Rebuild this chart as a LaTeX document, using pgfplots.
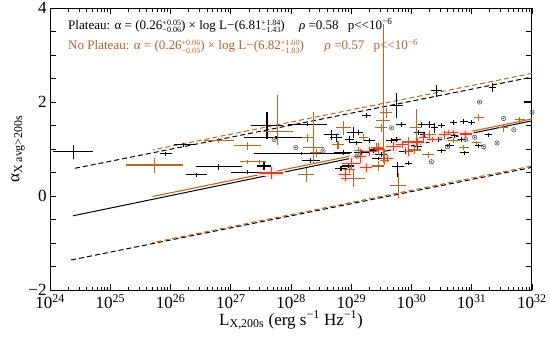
\documentclass[border=0pt]{standalone}
\usepackage{fontspec}
\setmainfont{Liberation Serif}
\usepackage{pgfplots}
\pgfplotsset{compat=1.18}
\usepackage{pgfplotstable}
\definecolor{orngb}{RGB}{190,102,32}
\definecolor{redp}{RGB}{232,60,30}
\definecolor{txtb}{RGB}{185,95,45}
\newcommand{\er}[2]{{\fontsize{8}{8}\selectfont\renewcommand\arraystretch{0.9}\begin{tabular}{@{}l@{}}#1\\#2\end{tabular}}}

\pgfplotstableread{
x y xe yp ym
24.38 0.94 0.33 0.15 0.15
25.92 0.90 0.10 0.04 0.04
26.22 1.09 0.17 0.04 0.04
26.43 0.45 0.17 0.04 0.04
26.80 0.62 0.38 0.07 0.07
27.28 0.51 0.27 0.04 0.04
27.55 0.64 0.12 0.08 0.08
27.60 1.50 0.27 0.28 0.28
27.75 1.24 0.53 0.03 0.03
28.18 0.90 0.80 0.03 0.03
28.27 1.52 0.32 0.03 0.03
28.33 0.75 0.15 0.05 0.05
28.67 1.30 0.12 0.10 0.10
28.75 1.24 0.10 0.08 0.08
28.83 0.58 0.10 0.05 0.05
28.87 0.92 0.15 0.05 0.05
28.95 0.64 0.10 0.05 0.05
28.97 1.20 0.08 0.08 0.08
29.03 1.35 0.10 0.12 0.12
29.08 1.13 0.10 0.05 0.05
29.12 1.35 0.08 0.05 0.05
29.17 0.92 0.12 0.05 0.05
29.25 1.71 0.08 0.05 0.05
29.30 1.18 0.10 0.06 0.06
29.37 0.98 0.08 0.06 0.06
29.45 0.80 0.10 0.04 0.04
29.50 0.88 0.10 0.05 0.05
29.67 1.18 0.10 0.06 0.06
29.75 1.20 0.08 0.05 0.05
29.75 1.92 0.11 0.27 0.27
29.77 0.62 0.10 0.10 0.22
29.83 1.52 0.08 0.06 0.06
29.90 0.95 0.10 0.05 0.05
29.95 0.70 0.06 0.04 0.04
30.10 1.05 0.08 0.06 0.06
30.12 1.35 0.08 0.05 0.05
30.17 1.52 0.06 0.06 0.06
30.22 1.30 0.08 0.06 0.06
30.30 1.52 0.08 0.08 0.08
30.38 1.45 0.06 0.10 0.10
30.42 2.24 0.09 0.13 0.13
30.45 1.20 0.06 0.05 0.05
30.50 1.50 0.06 0.06 0.06
30.50 0.96 0.08 0.05 0.05
30.63 1.07 0.08 0.05 0.05
30.70 1.56 0.06 0.05 0.05
30.72 1.28 0.06 0.05 0.05
30.83 1.20 0.06 0.05 0.05
30.87 1.58 0.06 0.05 0.05
30.88 0.92 0.08 0.04 0.04
31.00 1.56 0.06 0.05 0.05
31.12 1.07 0.06 0.04 0.04
31.28 1.30 0.06 0.05 0.05
31.35 2.31 0.06 0.10 0.10
31.95 2.00 0.08 0.03 0.03
}\blk

\pgfplotstableread{
x y xe yp ym
25.73 0.66 0.47 0.16 0.16
26.80 1.18 0.25 0.05 0.05
27.28 1.07 0.22 0.08 0.08
27.28 0.73 0.12 0.04 0.04
27.47 0.73 0.12 0.04 0.04
27.78 1.37 0.25 0.77 0.28
28.37 1.03 0.17 0.75 0.35
28.25 0.45 0.13 0.15 0.15
28.28 1.24 0.10 0.08 0.08
28.42 0.92 0.10 0.08 0.08
28.78 1.09 0.10 0.08 0.08
28.87 1.45 0.12 0.15 0.15
28.97 0.56 0.10 0.08 0.08
29.03 0.38 0.20 0.18 0.18
29.12 0.96 0.08 0.08 0.08
29.20 1.25 0.08 0.08 0.08
29.42 1.03 0.10 0.10 0.10
29.45 0.64 0.10 0.10 0.10
29.50 1.45 0.10 0.08 0.08
29.53 1.60 0.12 2.05 0.90
29.55 0.75 0.08 0.25 0.10
29.58 1.77 0.10 0.10 0.10
29.78 0.23 0.13 0.27 0.27
29.95 1.15 0.10 0.10 0.10
30.05 0.98 0.10 0.08 0.08
30.08 1.45 0.10 0.40 0.40
30.28 0.88 0.10 0.06 0.06
30.30 1.30 0.10 0.08 0.08
30.62 1.35 0.08 0.06 0.06
30.70 1.18 0.10 0.06 0.06
30.87 1.03 0.08 0.05 0.05
31.08 1.13 0.08 0.05 0.05
31.12 1.67 0.08 0.08 0.08
31.53 1.45 0.08 0.08 0.08
31.80 1.62 0.08 0.06 0.06
}\org

\pgfplotstableread{
x y xe yp ym
27.67 0.49 0.20 0.12 0.12
28.90 0.45 0.10 0.12 0.12
29.00 0.70 0.15 0.12 0.12
29.15 0.85 0.10 0.15 0.15
29.25 0.60 0.10 0.08 0.08
29.30 0.95 0.12 0.10 0.10
29.45 1.00 0.08 0.12 0.12
29.60 0.80 0.10 0.08 0.08
29.70 1.05 0.12 0.10 0.10
29.85 1.10 0.10 0.08 0.08
29.95 0.95 0.08 0.10 0.10
30.10 1.15 0.10 0.08 0.08
30.20 1.25 0.08 0.10 0.10
30.35 1.20 0.10 0.06 0.06
30.55 1.30 0.10 0.08 0.08
30.70 1.35 0.08 0.06 0.06
30.90 1.32 0.10 0.06 0.06
}\red

\pgfplotstableread{
x y
27.72 1.20
28.08 1.03
28.53 0.96
29.10 0.85
29.67 1.45
30.33 0.73
30.60 1.05
30.90 1.20
31.05 1.25
31.13 2.00
31.20 1.05
31.42 1.13
31.53 1.65
31.70 1.41
32.00 1.78
}\circ

\begin{document}
\begin{tikzpicture}
\begin{axis}[
  scale only axis, width=480pt, height=281pt,
  xmin=24, xmax=32, ymin=-2, ymax=4,
  xtick={24,25,...,32},
  xticklabels={10\textsuperscript{24},10\textsuperscript{25},10\textsuperscript{26},10\textsuperscript{27},10\textsuperscript{28},10\textsuperscript{29},10\textsuperscript{30},10\textsuperscript{31},10\textsuperscript{32}},
  minor xtick={24.301,24.477,24.602,24.699,24.778,24.845,24.903,24.954,
               25.301,25.477,25.602,25.699,25.778,25.845,25.903,25.954,
               26.301,26.477,26.602,26.699,26.778,26.845,26.903,26.954,
               27.301,27.477,27.602,27.699,27.778,27.845,27.903,27.954,
               28.301,28.477,28.602,28.699,28.778,28.845,28.903,28.954,
               29.301,29.477,29.602,29.699,29.778,29.845,29.903,29.954,
               30.301,30.477,30.602,30.699,30.778,30.845,30.903,30.954,
               31.301,31.477,31.602,31.699,31.778,31.845,31.903,31.954},
  ytick={-2,-1.5,...,4},
  yticklabels={−2,,,,0,,,,2,,,,4},
  tick align=inside, tick pos=both,
  major tick length=6pt, minor tick length=3.5pt,
  tick style={black, line width=0.7pt},
  tick label style={font=\fontsize{17}{17}\selectfont},
  xticklabel style={yshift=-1pt},
  xlabel={L\textsubscript{X,200s} (erg s\textsuperscript{−1} Hz\textsuperscript{−1})},
  ylabel={α\textsubscript{X avg>200s}},
  label style={font=\fontsize{17}{19}\selectfont},
  xlabel style={yshift=5pt},
  ylabel style={yshift=-3pt},
  axis line style={line width=0.9pt},
  error bars/error mark=none,
]
% fit lines
\addplot[orngb, line width=1.1pt, forget plot] coordinates {(25.70,-0.01) (32,1.64)};
\addplot[black, line width=1.0pt, forget plot] coordinates {(24.38,-0.42) (32,1.60)};
\addplot[black, line width=1pt, dash pattern=on 5pt off 3pt, forget plot] coordinates {(24.41,0.59) (32,2.53)};
\addplot[orngb, line width=1pt, dash pattern=on 5pt off 3pt, dash phase=3pt, forget plot] coordinates {(25.70,0.98) (32,2.61)};
\addplot[black, line width=1pt, dash pattern=on 5pt off 3pt, forget plot] coordinates {(24.35,-1.36) (32,0.61)};
\addplot[orngb, line width=1pt, dash pattern=on 5pt off 3pt, dash phase=4pt, forget plot] coordinates {(25.70,-0.99) (32,0.64)};
% pink glow for red points
\addplot[draw=none, mark=none, forget plot,
  error bars/.cd, x dir=both, x explicit, y dir=both, y explicit,
  error bar style={draw=pink!40, line width=5pt, line cap=round}]
  table[x=x, y=y, x error=xe, y error plus=yp, y error minus=ym]{\red};
% data
\addplot[draw=none, mark=none, forget plot,
  error bars/.cd, x dir=both, x explicit, y dir=both, y explicit,
  error bar style={draw=black, line width=1.1pt}]
  table[x=x, y=y, x error=xe, y error plus=yp, y error minus=ym]{\blk};
\addplot[draw=none, mark=none, forget plot,
  error bars/.cd, x dir=both, x explicit, y dir=both, y explicit,
  error bar style={draw=orngb, line width=1.1pt}]
  table[x=x, y=y, x error=xe, y error plus=yp, y error minus=ym]{\org};
\addplot[draw=none, mark=none, forget plot,
  error bars/.cd, x dir=both, x explicit, y dir=both, y explicit,
  error bar style={draw=redp, line width=1.1pt}]
  table[x=x, y=y, x error=xe, y error plus=yp, y error minus=ym]{\red};
\addplot[only marks, mark=o, mark size=2.2pt, black!65, mark options={line width=0.6pt}, forget plot]
  table[x=x, y=y]{\circ};
\addplot[only marks, mark=*, mark size=0.55pt, black!75, forget plot]
  table[x=x, y=y]{\circ};
% annotations
\node[anchor=base west, font=\fontsize{13}{13}\selectfont, inner sep=0pt] at (rel axis cs:0.037,0.925)
  {Plateau: α = (0.26\er{+0.05}{−0.06}) × log L−(6.81\er{+1.84}{−1.43})\hspace{1.1em}\textit{ρ} =0.58\hspace{0.7em}p<{}<10\textsuperscript{−6}};
\node[anchor=base west, font=\fontsize{13}{13}\selectfont, inner sep=0pt, text=txtb] at (rel axis cs:0.037,0.852)
  {No Plateau: α = (0.26\er{+0.06}{−0.05}) × log L−(6.82\er{+1.60}{−1.83})\hspace{1.6em}\textit{ρ} =0.57\hspace{0.7em}p<{}<10\textsuperscript{−6}};
\end{axis}
\pgfresetboundingbox
\path ([shift={(-50pt,-55pt)}]current axis.south west) rectangle ([shift={(18pt,8pt)}]current axis.north east);
\end{tikzpicture}
\end{document}
